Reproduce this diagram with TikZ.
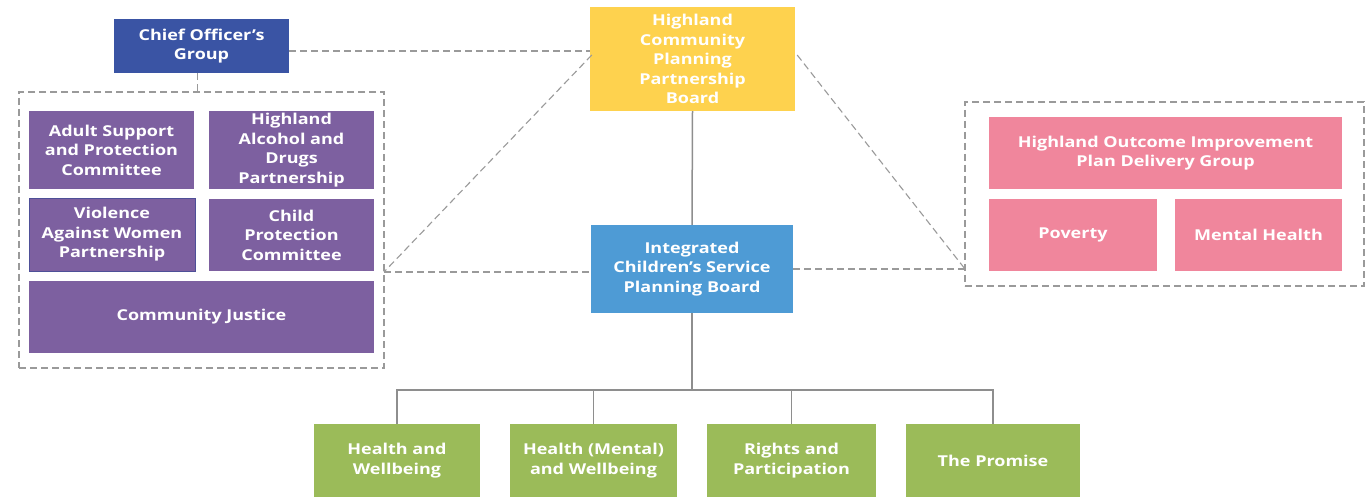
\documentclass[tikz,border=0pt]{standalone}
\usepackage{fontspec}
\setmainfont{Open Sans}[FakeStretch=1.2]
\definecolor{chiefblue}{HTML}{3A54A4}
\definecolor{purp}{HTML}{7D60A0}
\definecolor{purpedge}{HTML}{4E4F98}
\definecolor{yell}{HTML}{FED24E}
\definecolor{icblue}{HTML}{4E9BD5}
\definecolor{pink}{HTML}{F0869C}
\definecolor{grn}{HTML}{9BBB59}
\definecolor{dashgray}{HTML}{9A9A9A}
\definecolor{treegray}{HTML}{8E8E8E}
\tikzset{
  box/.style={rectangle, inner sep=0pt, align=center, text=white,
    font=\fontsize{15}{19.5}\selectfont\bfseries},
  frame/.style={rectangle, inner sep=0pt, draw=dashgray, line width=1.1pt, dash pattern=on 7pt off 4pt},
  dashline/.style={draw=dashgray, line width=1.1pt, dash pattern=on 7pt off 4pt},
  treeline/.style={draw=treegray, line width=1.5pt},
}
\newcommand\mybox[7]{%
  \node[#6, minimum width={#4pt-#2pt}, minimum height={#5pt-#3pt}]
    (#1) at ({(#2+#4)/2},{(#3+#5)/2}) {#7};}
\begin{document}
\begin{tikzpicture}[x=1pt,y=-1pt]
\useasboundingbox[fill=white] (0,0) rectangle (1371,497);
% containers
\mybox{leftbox}{19}{92}{384}{368}{frame}{}
\mybox{rightbox}{965}{102}{1364}{286}{frame}{}
% top
\mybox{chief}{114}{19}{289}{73}{box,fill=chiefblue}{Chief Officer's\\Group}
\mybox{cpp}{590}{7}{795}{111}{box,fill=yell}{Highland\\Community\\Planning\\Partnership\\Board}
\mybox{icsp}{591}{225}{793}{313}{box,fill=icblue}{Integrated\\Children's Service\\Planning Board}
% left group
\mybox{asp}{29}{111}{194}{189}{box,fill=purp}{Adult Support\\and Protection\\Committee}
\mybox{had}{209}{111}{374}{189}{box,fill=purp}{Highland\\Alcohol and\\Drugs\\Partnership}
\mybox{vaw}{29}{198}{195}{271}{box,fill=purp,draw=purpedge,line width=0.8pt}{Violence\\Against Women\\Partnership}
\mybox{cpc}{209}{199}{374}{271}{box,fill=purp}{Child\\Protection\\Committee}
\mybox{cj}{29}{281}{374}{353}{box,fill=purp}{Community Justice}
% right group
\mybox{hoip}{989}{117}{1342}{189}{box,fill=pink}{Highland Outcome Improvement\\Plan Delivery Group}
\mybox{pov}{989}{199}{1157}{271}{box,fill=pink}{Poverty}
\mybox{mh}{1175}{199}{1342}{271}{box,fill=pink}{Mental Health}
% bottom
\mybox{g1}{314}{424}{480}{497}{box,fill=grn}{Health and\\Wellbeing}
\mybox{g2}{510}{424}{677}{497}{box,fill=grn}{Health (Mental)\\and Wellbeing}
\mybox{g3}{707}{424}{876}{497}{box,fill=grn}{Rights and\\Participation}
\mybox{g4}{906}{424}{1080}{497}{box,fill=grn}{The Promise}
% dashed connectors
\coordinate (lj) at (384,272);
\coordinate (rj) at (965,269);
\draw[dashline] ([yshift=-5pt]chief.east) -- ([yshift=-5pt]chief.east -| cpp.west);
\draw[dashline] ([xshift=-4pt]chief.south) -- ([xshift=-4pt]chief.south |- leftbox.north);
\draw[dashline] ([xshift=2pt,yshift=4pt]cpp.west) -- (lj);
\draw[dashline] (lj) -- (lj -| icsp.west);
\draw[dashline] ([xshift=2pt,yshift=4pt]cpp.east) -- (rj);
\draw[dashline] (icsp.east) -- (icsp.east -| rightbox.west);
% solid tree
\coordinate (bus) at (0,390);
\draw[treeline] (cpp.south) -- (icsp.north);
\draw[treeline] (icsp.south) -- (icsp.south |- bus);
\draw[treeline] (g1.north) -- (g1.north |- bus) -- (g4.north |- bus) -- (g4.north);
\draw[treeline] (g2.north) -- (g2.north |- bus);
\draw[treeline] (g3.north) -- (g3.north |- bus);
\end{tikzpicture}
\end{document}
